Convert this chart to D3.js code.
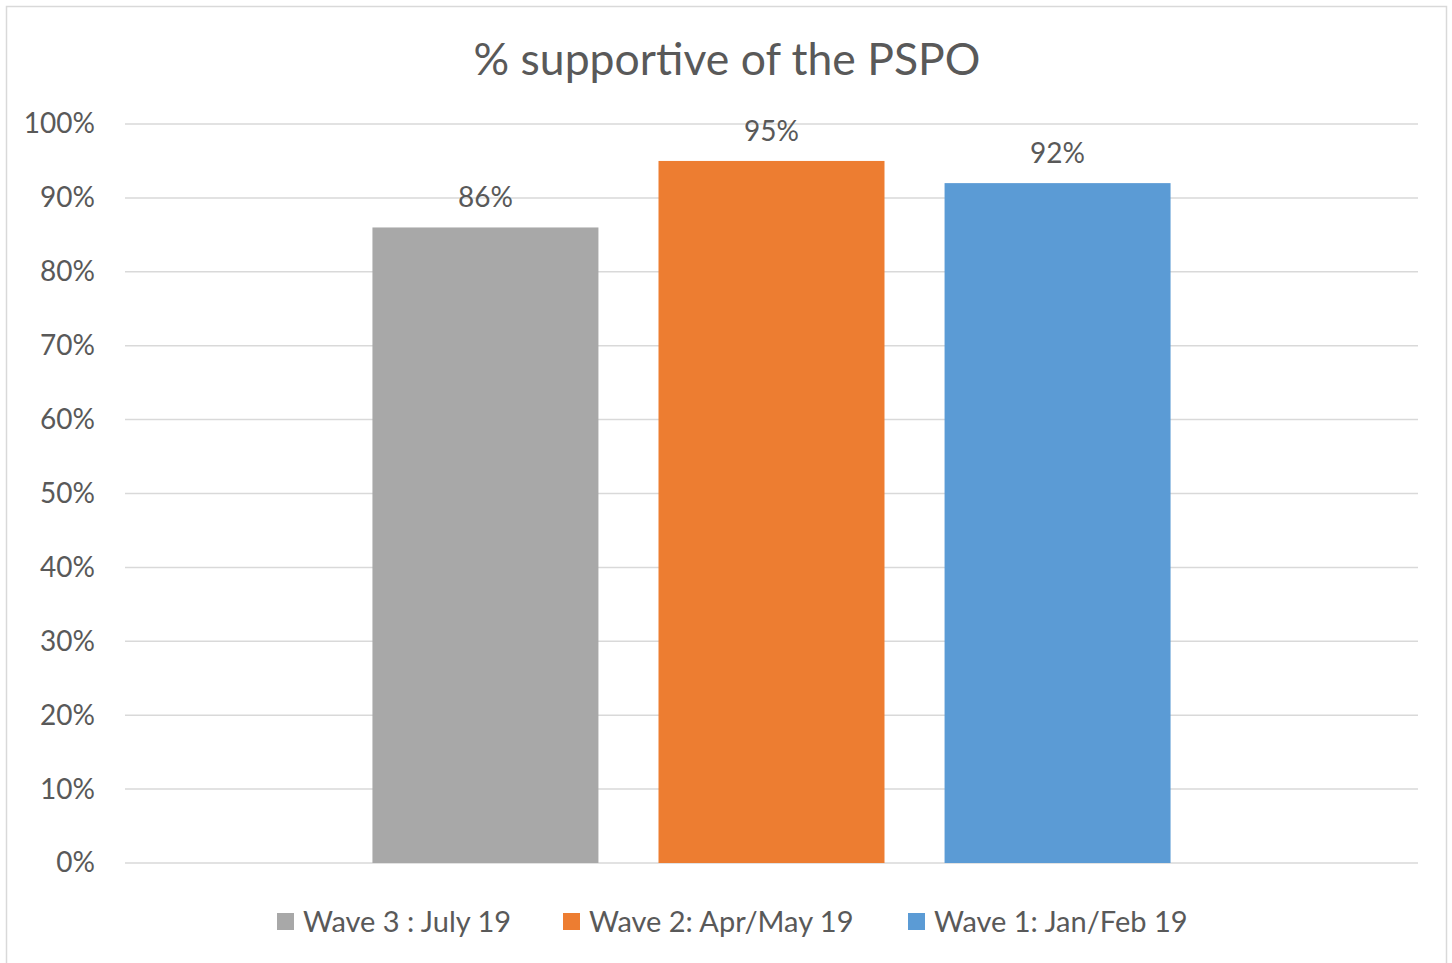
<!DOCTYPE html>
<html lang="en">
<head>
  <meta charset="utf-8">
  <title>% supportive of the PSPO</title>
  <script src="https://cdn.jsdelivr.net/npm/d3@7"></script>
  <style>
    body { margin: 0; background: #fff; }
    text { font-family: Lato, "Open Sans", sans-serif; fill: #595959; }
  </style>
</head>
<body>
  <div id="chart"></div>
  <script>
    "use strict"

    var series = ["Wave 3 : July 19", "Wave 2: Apr/May 19", "Wave 1: Jan/Feb 19"];
    var values = [86, 95, 92];
    var colors = ["#A8A8A8", "#ED7D31", "#5B9BD5"];
    var yTicks = [0, 10, 20, 30, 40, 50, 60, 70, 80, 90, 100];

    var width = 1452, height = 963;
    var margin = {top: 124, right: 34, bottom: 100, left: 125};
    var plotW = width - margin.left - margin.right,
        plotH = 863 - margin.top;

    var svg = d3.select("#chart").append("svg")
      .attr("width", width)
      .attr("height", height);

    // chart frame
    svg.append("rect")
      .attr("x", 6.5).attr("y", 6.5)
      .attr("width", 1440).attr("height", 970)
      .attr("fill", "none")
      .attr("stroke", "#d9d9d9")
      .attr("stroke-width", 1.5);

    svg.append("text")
      .attr("x", 727).attr("y", 75)
      .attr("text-anchor", "middle")
      .style("font-size", "44.5px")
      .text("% supportive of the PSPO");

    var g = svg.append("g")
      .attr("transform", "translate(" + margin.left + "," + margin.top + ")");

    var x = d3.scaleBand()
      .domain(series)
      .range([0, plotW])
      .paddingInner(0.21)
      .paddingOuter(0.865);

    var y = d3.scaleLinear()
      .domain([0, 100])
      .range([plotH, 0]);

    // gridlines
    g.selectAll(".grid")
      .data(yTicks)
      .enter().append("line")
        .attr("x1", 0).attr("x2", plotW)
        .attr("y1", d => y(d)).attr("y2", d => y(d))
        .attr("stroke", "#d9d9d9")
        .attr("stroke-width", 1.5);

    var yAxis = g.append("g")
      .call(d3.axisLeft(y).tickValues(yTicks).tickFormat(d => d + "%").tickSize(0).tickPadding(30));
    yAxis.select(".domain").remove();
    yAxis.selectAll("text")
      .style("font-size", "28px")
      .attr("fill", "#595959")
      .style("font-family", "Lato, 'Open Sans', sans-serif");

    var data = series.map((s, i) => ({name: s, value: values[i], color: colors[i]}));

    g.selectAll(".bar")
      .data(data)
      .enter().append("rect")
        .attr("x", d => x(d.name))
        .attr("y", d => y(d.value))
        .attr("width", x.bandwidth())
        .attr("height", d => plotH - y(d.value))
        .attr("fill", d => d.color);

    g.selectAll(".lbl")
      .data(data)
      .enter().append("text")
        .attr("x", d => x(d.name) + x.bandwidth() / 2)
        .attr("y", d => y(d.value) - 30)
        .attr("text-anchor", "middle")
        .attr("dy", "0.35em")
        .style("font-size", "28px")
        .text(d => d.value + "%");

    // legend
    var legendX = [277, 563, 908];
    var legend = svg.selectAll(".leg")
      .data(data)
      .enter().append("g")
        .attr("transform", (d, i) => "translate(" + legendX[i] + ",913)");
    legend.append("rect")
      .attr("width", 17).attr("height", 17)
      .attr("fill", d => d.color);
    legend.append("text")
      .attr("x", 26).attr("y", 9)
      .attr("dy", "0.35em")
      .style("font-size", "29px")
      .text(d => d.name);
  </script>
</body>
</html>
